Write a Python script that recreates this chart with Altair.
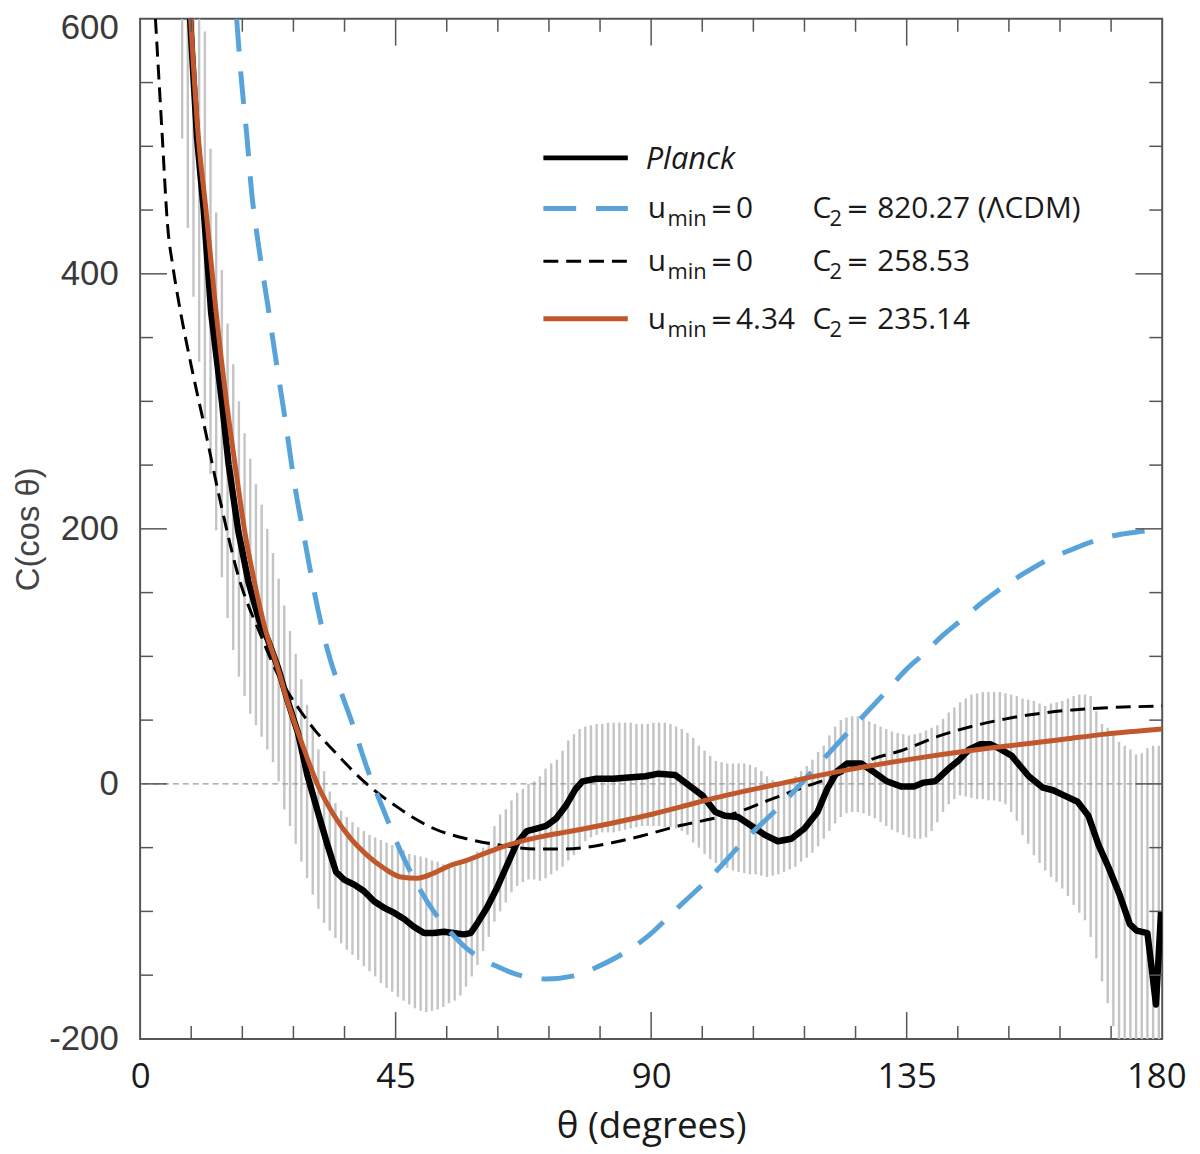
import altair as alt
import pandas as pd

# ---------------- data ----------------
PLANCK_T = [8.8, 10.0, 11.2, 12.5, 14.4, 15.6, 17.3, 19.1, 21.0, 22.5, 24.3, 26.0, 27.8, 29.5, 31.3,
            33.0, 34.5, 35.9, 37.7, 39.4, 41.2, 42.9, 44.7, 46.5, 48.2, 50.0, 51.7, 53.5, 55.2, 57.0,
            58.2, 59.3, 61.1, 62.8, 64.6, 66.3, 68.1, 69.8, 71.5, 73.3, 75.0, 76.7, 77.9, 80.3, 83.3,
            86.0, 89.0, 91.3, 94.2, 96.6, 99.0, 101.3, 103.0, 105.3, 107.7, 110.0, 112.3, 114.7, 117.0,
            119.3, 121.0, 122.8, 124.5, 127.0, 129.3, 131.5, 134.0, 136.3, 138.0, 140.0, 142.4, 144.3,
            146.0, 147.9, 149.8, 151.6, 153.5, 156.5, 159.0, 160.8, 162.7, 165.1, 167.0, 168.8, 170.6,
            172.5, 174.3, 175.5, 177.4, 178.9, 179.8]
PLANCK_C = [600, 508, 450, 370, 300, 250, 198, 158, 128, 113, 91, 65, 40, 6, -22,
            -48, -69, -75, -79, -84, -92, -97, -101, -106, -112, -117, -117, -116, -117, -118,
            -117, -110, -97, -82, -64, -47, -37, -35, -33, -27, -17, -4, 2, 4, 4,
            5, 6, 8, 7, -1, -9, -22, -25, -26, -33, -40, -45, -43, -35,
            -22, -4, 10, 16, 16, 9, 2, -2, -2, 1, 2, 12, 19,
            27, 31, 31, 27, 22, 6, -3, -5, -9, -14, -25, -48, -66,
            -87, -110, -115, -117, -173, -100]

ORANGE_T = [8.9, 10.2, 11.6, 13.2, 15.2, 16.8, 18.5, 20.2, 22.0, 24.3, 26.0, 28.4, 31.3, 34.2, 37.1,
            40.0, 42.9, 45.9, 48.8, 51.7, 54.6, 57.5, 60.4, 63.4, 66.3, 70.0, 77.3, 89.0, 97.8, 101.3,
            113.5, 125.8, 138.1, 150.4, 162.7, 170.0, 180.0]
ORANGE_C = [600, 510, 450, 378, 300, 248, 196, 157, 122, 90, 64, 33, -1, -25, -43,
            -56, -66, -73, -74, -70, -64, -60, -55, -50, -46, -42, -36, -25, -15, -11,
            1, 12, 21, 28.5, 35, 39, 43]

BLACKDASH_T = [2.7, 3.9, 4.8, 5.8, 6.8, 9.0, 11.2, 14.1, 17.3, 21.4, 24.0, 27.8, 30.8, 34.3, 39.5,
               45.9, 48.3, 51.7, 57.5, 63.3, 70.0, 75.0, 83.3, 89.0, 94.8, 99.0, 104.0, 110.6, 116.0,
               122.3, 129.3, 134.0, 141.0, 152.5, 164.2, 180.0]
BLACKDASH_C = [600, 508, 440, 405, 378, 328, 283, 222, 163, 115, 88, 60, 42, 25, 1.5,
               -20, -27, -35, -43, -48, -51, -51, -46, -40, -33, -29, -24, -13, -4,
               6, 20, 26, 38, 51, 58, 61]

BLUE_T = [17.0, 17.9, 18.8, 19.6, 20.8, 22.5, 23.7, 25.5, 27.2, 29.0, 30.7, 33.0, 35.4, 37.1, 40.0,
          43.0, 45.9, 48.8, 51.7, 54.6, 57.5, 60.5, 63.3, 65.4, 71.5, 77.0, 80.3, 89.0, 95.2, 100.7,
          106.5, 113.0, 118.8, 125.2, 131.3, 135.0, 137.5, 141.5, 144.5, 148.5, 151.5, 156.0, 159.5,
          164.2, 167.7, 173.0, 176.5, 180.0]
BLUE_C = [600, 549, 508, 466, 424, 375, 339, 287, 235, 191, 150, 105, 72, 51, 12,
          -22, -53, -79, -100, -116, -129, -138, -144, -148, -153, -150, -144, -121, -95, -72,
          -44, -16, 12, 43, 72, 90, 100, 117, 128, 143, 153, 166, 175,
          184, 190, 196, 198, 200]

# error bars, one per degree from 7 to 179
BAND_THETA = [k + 0.4 for k in range(7, 180)]
BAND_HI = [600, 600, 600, 600, 590, 498, 448, 403, 361, 329, 300, 275, 255, 235, 219, 200, 181, 161,
           140, 120, 102, 82, 62, 45, 27, 10, -6, -15, -21, -26, -30, -34, -37, -40, -42, -44, -46,
           -48, -50, -52, -55, -56, -57, -58, -60, -61, -63, -65, -65, -62, -59, -57, -53, -50, -45,
           -33, -24, -20, -13, -7, -4, 0, 2, 6, 12, 16, 19, 26, 34, 39, 43, 45, 46, 47, 47, 48, 48,
           48, 48, 48, 47, 47, 47, 48, 48, 48, 47, 45, 43, 40, 36, 30, 26, 22, 18, 17, 16, 16, 16,
           16, 15, 13, 10, 6, 3, 1, -1, 2, 6, 10, 14, 19, 25, 30, 38, 45, 50, 52, 53, 53, 52, 49,
           47, 45, 43, 41, 40, 39, 38, 39, 40, 42, 44, 46, 51, 56, 60, 64, 67, 70, 71, 72, 72, 72,
           72, 71, 70, 69, 67, 66, 65, 63, 61, 63, 64, 65, 67, 69, 70, 70, 69, 57, 47, 44, 40, 33,
           30, 27, 23, 24, 28, 30, 30]
BAND_LO = [506, 436, 382, 331, 286, 243, 199, 162, 130, 105, 84, 69, 55, 46, 37, 27, 17, 2,
           -20, -33, -47, -61, -74, -87, -98, -109, -115, -121, -125, -130, -134, -138, -143, -147,
           -151, -156, -160, -163, -167, -170, -173, -176, -178, -179, -178, -177, -175, -172, -170,
           -166, -159, -151, -142, -131, -120, -108, -100, -93, -85, -80, -77, -75, -75, -76, -74,
           -71, -68, -65, -60, -56, -50, -45, -42, -40, -38, -38, -38, -37, -36, -35, -34, -33, -33,
           -33, -33, -34, -34, -35, -37, -40, -46, -50, -55, -59, -62, -64, -66, -68, -69, -70, -71,
           -71, -72, -73, -72, -71, -69, -67, -65, -61, -58, -54, -49, -43, -37, -31, -26, -23, -22,
           -22, -23, -25, -27, -30, -33, -36, -38, -40, -42, -43, -43, -42, -37, -30, -22, -16, -12,
           -9, -10, -11, -12, -12, -13, -13, -14, -16, -22, -29, -40, -47, -56, -62, -68, -73, -77,
           -82, -88, -95, -101, -107, -120, -137, -155, -172, -190, -200, -200, -200, -200, -200,
           -200, -200, -200]

X_LABELS = [0, 45, 90, 135, 180]
Y_LABELS = [-200, 0, 200, 400, 600]
X_MINOR = [9, 18, 27, 36, 54, 63, 72, 81, 99, 108, 117, 126, 144, 153, 162, 171]
X_MAJOR = [45, 90, 135]
Y_MINOR = [-150, -100, -50, 50, 100, 150, 250, 300, 350, 450, 500, 550]
Y_MAJOR = [0, 200, 400]

# ---------------- chart ----------------
W, H = 1029, 1027
xs = alt.Scale(domain=[0, 180], nice=False, zero=False)
ys = alt.Scale(domain=[-200, 600], nice=False, zero=False)
FRAME = "#555555"
BLUE = "#58A4DA"
ORANGE = "#C1582B"
TXT = "#1a1a1a"

x_axis = alt.Axis(values=X_LABELS, ticks=False, domain=False, grid=False,
                  labelFontSize=35, labelFont="Open Sans", labelColor=TXT,
                  labelPadding=21, labelFlush=False,
                  labelOffset={"condition": {"test": "datum.value == 180", "value": -6}, "value": 0},
                  title="θ (degrees)", titleFontSize=37, titleFont="Open Sans",
                  titleFontWeight="normal", titleColor=TXT, titlePadding=14)
y_axis = alt.Axis(values=Y_LABELS, ticks=False, domain=False, grid=False,
                  labelFontSize=35, labelFont="Liberation Sans", labelColor="#3a3a3a",
                  labelPadding=22, labelFlush=False,
                  labelExpr="toString(datum.value)",
                  labelOffset={"condition": {"test": "datum.value == 600", "value": 9}, "value": 0},
                  title="C(cos θ)", titleFontSize=33, titleFont="Liberation Sans",
                  titleFontWeight="normal", titleColor="#444444",
                  titleX=-112, titleY=H / 2, titleAngle=-90, titleBaseline="middle",
                  titleAlign="center")


def X(field):
    return alt.X(field, scale=xs, axis=x_axis)


def Y(field):
    return alt.Y(field, scale=ys, axis=y_axis)


band_df = pd.DataFrame({"theta": BAND_THETA, "lo": BAND_LO, "hi": BAND_HI})
band = alt.Chart(band_df).mark_rule(color="#c4c4c4", strokeWidth=2.4, clip=True).encode(
    x=X("theta:Q"), y=Y("lo:Q"), y2="hi:Q",
)

zero = alt.Chart(pd.DataFrame({"C": [0]})).mark_rule(
    color="#9a9a9a", strokeWidth=1.2, strokeDash=[6, 4]).encode(y=Y("C:Q"))


def curve(t, c, interp, **style):
    df = pd.DataFrame({"theta": t, "C": c})
    return alt.Chart(df).mark_line(clip=True, interpolate=interp, **style).encode(
        x=X("theta:Q"), y=Y("C:Q"),
    )


blackdash = curve(BLACKDASH_T, BLACKDASH_C, "monotone", color="black", strokeWidth=3,
                  strokeDash=[15, 8])
planck = curve(PLANCK_T, PLANCK_C, "linear", color="black", strokeWidth=6.5, strokeJoin="round")
blue = curve(BLUE_T, BLUE_C, "monotone", color=BLUE, strokeWidth=5, strokeDash=[33, 20])
orange = curve(ORANGE_T, ORANGE_C, "monotone", color=ORANGE, strokeWidth=5)


def xticks(vals, length):
    df = pd.DataFrame({"theta": vals})
    base = alt.Chart(df).mark_rule(color=FRAME, strokeWidth=1.5)
    return [
        base.encode(x=X("theta:Q"), y=alt.value(H), y2=alt.value(H - length)),
        base.encode(x=X("theta:Q"), y=alt.value(0), y2=alt.value(length)),
    ]


def yticks(vals, length):
    df = pd.DataFrame({"C": vals})
    base = alt.Chart(df).mark_rule(color=FRAME, strokeWidth=1.5)
    return [
        base.encode(y=Y("C:Q"), x=alt.value(0), x2=alt.value(length)),
        base.encode(y=Y("C:Q"), x=alt.value(W), x2=alt.value(W - length)),
    ]


ticks = xticks(X_MINOR, 13) + xticks(X_MAJOR, 27) + yticks(Y_MINOR, 13) + yticks(Y_MAJOR, 27)

# ---------------- legend (inside the plot) ----------------
one = pd.DataFrame({"a": [0]})
LX0, LX1 = 406, 491
ROWS = [140, 191, 244, 302]


def sample(y, **style):
    return alt.Chart(one).mark_rule(**style).encode(
        x=alt.value(LX0), x2=alt.value(LX1), y=alt.value(y))


def label(text, x, y, size=30, font="Open Sans", **kw):
    return alt.Chart(one).mark_text(text=text, font=font, fontSize=size, color=TXT,
                                    align="left", baseline="alphabetic", **kw).encode(
        x=alt.value(x), y=alt.value(y))


legend = [
    sample(ROWS[0], color="black", strokeWidth=5),
    sample(ROWS[1], color=BLUE, strokeWidth=5, strokeDash=[33, 20]),
    sample(ROWS[2], color="black", strokeWidth=3, strokeDash=[15, 8]),
    sample(ROWS[3], color=ORANGE, strokeWidth=5),
    label("Planck", 509, ROWS[0] + 11, size=31, fontStyle="italic"),
]
U_VALUES = ["0", "0", "4.34"]
C2_VALUES = ["820.27 (ΛCDM)", "258.53", "235.14"]
for row, uval, cval in zip(ROWS[1:], U_VALUES, C2_VALUES):
    base = row + 10
    legend += [
        label("u", 511, base),
        label("min", 531, base + 8, size=22),
        label("=", 574, base, size=27, font="DejaVu Sans"),
        label(uval, 600, base),
        label("C", 677, base),
        label("2", 694, base + 8, size=22),
        label("=", 711, base, size=27, font="DejaVu Sans"),
        label(cval, 742, base),
    ]

chart = alt.layer(band, zero, blackdash, planck, blue, orange, *ticks, *legend).properties(
    width=W, height=H,
    padding={"left": 133, "top": 7, "right": 30, "bottom": 112},
    autosize=alt.AutoSizeParams(type="none"),
    background="white",
).configure_view(stroke=FRAME, strokeWidth=2)

chart.save("out.html", embed_options={"renderer": "svg", "actions": False})
